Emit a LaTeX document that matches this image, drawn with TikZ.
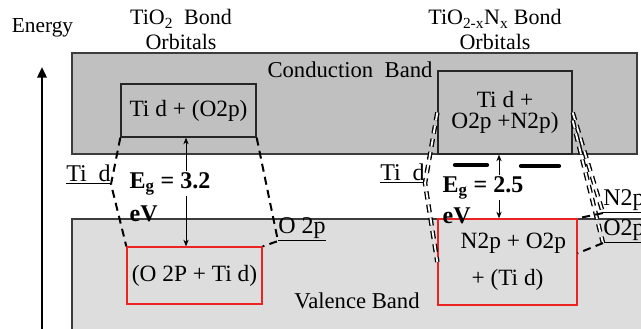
\documentclass[tikz,border=0pt]{standalone}
\usepackage{fontspec}
\setmainfont{Liberation Serif}
\usetikzlibrary{arrows.meta,positioning,calc}
\definecolor{cbgray}{RGB}{192,192,192}
\definecolor{vbgray}{RGB}{221,221,221}
\definecolor{bandline}{RGB}{60,60,60}
\definecolor{vbred}{RGB}{235,35,35}

\begin{document}
\begin{tikzpicture}[
  x=0.75pt, y=-0.75pt,
  band/.style={draw=bandline, line width=1.1pt},
  orb/.style={draw=black!85, line width=1pt, fill=cbgray, inner sep=0pt, align=center, font=\fontsize{17.5}{16}\selectfont},
  redorb/.style={draw=vbred, line width=1pt, inner sep=0pt, align=center, font=\fontsize{17.5}{21}\selectfont},
  lvl/.style={inner sep=0pt, anchor=base west, font=\fontsize{18}{20}\selectfont},
  title/.style={align=center, anchor=base, inner sep=0pt, font=\fontsize{16.5}{18.75}\selectfont},
  bandtxt/.style={anchor=base, inner sep=0pt, font=\fontsize{17}{20}\selectfont},
  egtxt/.style={anchor=base west, inner sep=1pt, font=\fontsize{18}{20}\selectfont\bfseries},
  link/.style={black, line width=1.5pt, dash pattern=on 6pt off 4pt},
  dlink/.style={link, double=white, double distance=1.4pt, line width=1pt},
  gap/.style={{Stealth[length=5pt,width=4pt]}-{Stealth[length=5pt,width=4pt]}, line width=0.6pt},
  bar/.style={line width=3.2pt, line cap=round},
]
\useasboundingbox (0,0) rectangle (641,328);
\clip (0,0) rectangle (641,328);

% bands
\draw[band, fill=cbgray] (72,53) rectangle (637,154);
\draw[band, fill=vbgray] (72,219) rectangle (660,345);
\node[bandtxt] (cbtxt) at (350,77) {Conduction\ \ Band};
\node[bandtxt] (vbtxt) at (357,308) {Valence Band};

% energy axis
\node[anchor=base, inner sep=0pt, font=\fontsize{16}{18}\selectfont] (energy) at (42.5,33) {Energy};
\draw[line width=1.8pt, -{Triangle[length=8pt,width=7pt]}] (42,335) -- (42,67);

% titles
\node[title] (t1) at (181,50) {TiO\textsubscript{2}\ \ Bond\\Orbitals};
\node[title] (t2) at (495,50) {TiO\textsubscript{2-x}N\textsubscript{x} Bond\\Orbitals};

% TiO2 orbitals
\node[orb, minimum width=101.25pt, minimum height=39.75pt] (cb1) at (188.5,110.5) {Ti\ d + (O2p)};
\node[redorb, minimum width=101.25pt, minimum height=42.75pt] (vb1) at (194.5,275.5) {(O 2P + Ti\ d)};
\node[lvl] (tid1) at (66,181) {\underline{Ti\ \ d}};
\node[lvl] (o2p1) at (278,233) {\underline{O 2p}};

% TiO2-xNx orbitals
\node[orb, minimum width=100.5pt, minimum height=62.25pt] (cb2) at (505,112.5) {Ti\ d +\\O2p +N2p)};
\node[redorb, minimum width=104.25pt, minimum height=64.5pt] (vb2) at (507.5,262) {\ \ N2p + O2p\\[7pt]+ (Ti\ d)};
\node[lvl] (tid2) at (380,180) {\underline{Ti\ \ d}};
\node[lvl] (n2p) at (603,205) {\underline{N2p}};
\node[lvl] (o2p2) at (603,235) {\underline{O2p}};

% N 2p levels in the gap
\draw[bar] (455,165) -- (487,165);
\draw[bar] (521,166) -- (559,166);

% bond lines
\draw[link] (cb1.south west) -- (tid1.south east) -- (vb1.north west);
\draw[link] (cb1.south east) -- (o2p1.south west) -- (vb1.north east);
\draw[dlink] (cb2.west) -- (tid2.south east) -- (vb2.west);
\draw[dlink] (cb2.east) -- (n2p.south west);
\draw[dlink] ([yshift=-6pt]cb2.east) -- (o2p2.south west);
\draw[link] (n2p.south west) -- (vb2.north east);
\draw[link] (o2p2.south west) -- ($(vb2.north east)!0.4!(vb2.south east)$);

% band gaps
\coordinate (g1) at ($(cb1.south)+(-2.5,0)$);
\coordinate (g2) at ($(cb2.south)+(-6,0)$);
\draw[gap] (g1) -- (g1 |- vb1.north);
\draw[gap] (g2) -- (g2 |- vb2.north);
\node[egtxt, fill=white] (eg1) at (128,188) {E\textsubscript{g} = 3.2};
\node[egtxt] (ev1) at (128,221) {eV};
\node[egtxt, fill=white] (eg2) at (441,192) {E\textsubscript{g} = 2.5};
\node[egtxt] (ev2) at (441,223) {eV};
\end{tikzpicture}
\end{document}
